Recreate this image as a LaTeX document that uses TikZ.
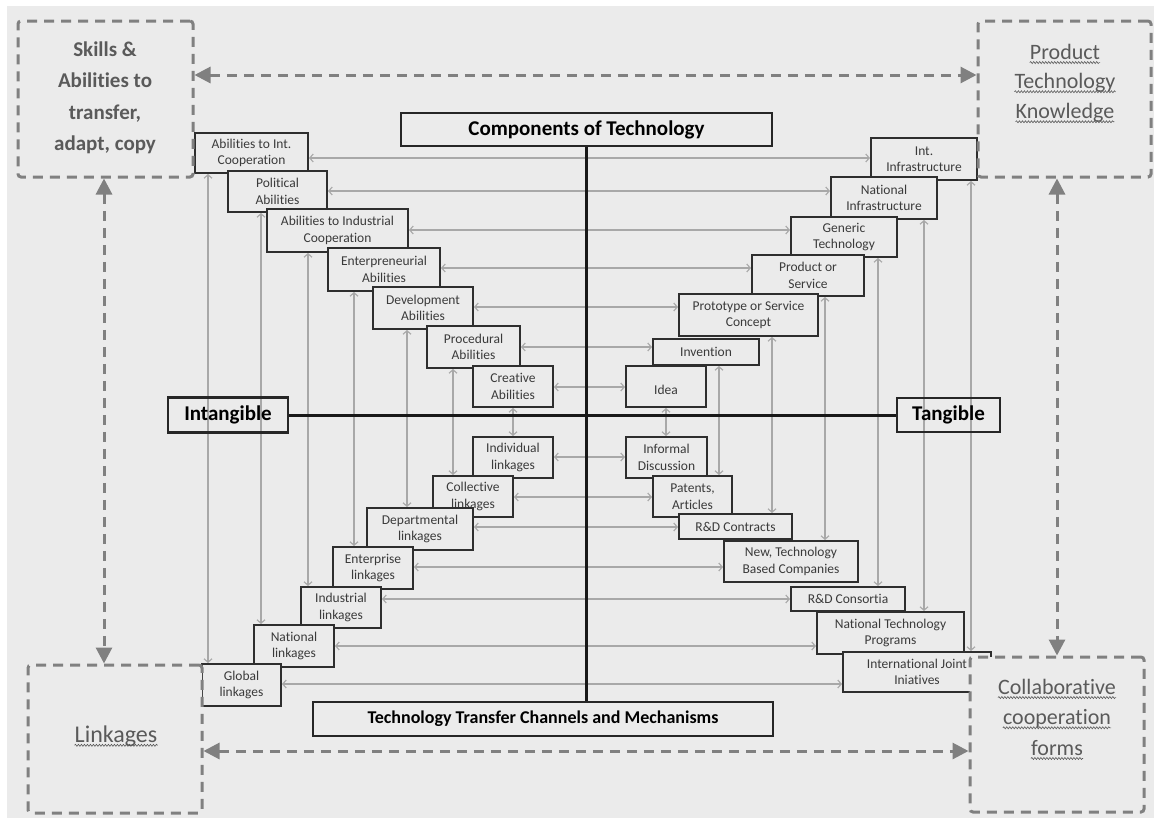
\documentclass[tikz,border=0pt]{standalone}
\usepackage{fontspec}
\setmainfont{Carlito}[Ligatures=NoCommon]
\usetikzlibrary{arrows.meta,decorations.pathmorphing}
\definecolor{bg}{HTML}{EBEBEB}
\definecolor{dashc}{HTML}{808080}
\definecolor{thinc}{HTML}{A8A8A8}
\definecolor{boxc}{HTML}{2E2E2E}
\definecolor{txt}{HTML}{3A3A3A}
\definecolor{ctxt}{HTML}{5A5A5A}
\pgfdeclarelayer{back}
\pgfdeclarelayer{lines}
\pgfsetlayers{back,lines,main}
\begin{document}
\begin{tikzpicture}[x=1pt,y=-1pt,
  sbox/.style={draw=boxc, line width=2pt, fill=bg, inner sep=0pt, align=center, text=txt, font=\fontsize{13.5}{16.5}\selectfont},
  bbox/.style={draw=black!85, line width=2.5pt, inner sep=0pt, font=\bfseries\fontsize{21}{24}\selectfont},
  harrow/.style={draw=thinc, line width=1.1pt, {Straight Barb[length=3.5pt,width=8pt]}-{Straight Barb[length=3.5pt,width=8pt]}},
  axis/.style={draw=black!90, line width=3pt},
  dbox/.style={draw=dashc, line width=3pt, dash pattern=on 10pt off 7pt, rounded corners=3pt, fill=bg, inner sep=0pt},
  darrow/.style={draw=dashc, line width=3pt, dash pattern=on 10pt off 7pt, {Triangle[length=16pt,width=16pt]}-{Triangle[length=16pt,width=16pt]}},
  ctext/.style={inner sep=0pt, text=ctxt, font=\fontsize{22}{26}\selectfont},
  squig/.style={draw=ctxt, line width=0.6pt, decorate, decoration={snake, amplitude=1pt, segment length=3pt}}
]
\useasboundingbox (0,0) rectangle (1154,819);
\begin{pgfonlayer}{back}
\fill[white] (0,0) rectangle (1154,819);
\fill[bg] (7,6) rectangle (1154,818);
\end{pgfonlayer}

% headings
\node[bbox, minimum width=371pt, minimum height=33pt] (comp) at (586.5,129.5) {Components of Technology};
\node[bbox, minimum width=460pt, minimum height=34pt, font=\bfseries\fontsize{18}{22}\selectfont] (tt) at (543,719) {Technology Transfer Channels and Mechanisms};
\node[bbox, minimum width=120pt, minimum height=35pt] (intang) at (228,415) {Intangible};
\node[bbox, minimum width=103pt, minimum height=34pt] (tang) at (948.5,415) {Tangible};

% upper left
\node[sbox, minimum width=113pt, minimum height=40pt] (a1) at (251.5,153) {Abilities to Int.\\Cooperation};
\node[sbox, minimum width=99pt, minimum height=41pt] (a2) at (277.5,191.5) {Political\\Abilities};
\node[sbox, minimum width=141pt, minimum height=43pt] (a3) at (337.5,230.5) {Abilities to Industrial\\Cooperation};
\node[sbox, minimum width=112pt, minimum height=43pt] (a4) at (384,269.5) {Enterpreneurial\\Abilities};
\node[sbox, minimum width=100pt, minimum height=42pt] (a5) at (423,308) {Development\\Abilities};
\node[sbox, minimum width=93pt, minimum height=42pt] (a6) at (473.5,347) {Procedural\\Abilities};
\node[sbox, minimum width=80pt, minimum height=41pt] (a7) at (513,386.5) {Creative\\Abilities};

% upper right
\node[sbox, minimum width=106pt, minimum height=42pt] (b1) at (924,159) {Int.\\Infrastructure};
\node[sbox, minimum width=106pt, minimum height=42pt] (b2) at (884,198) {National\\Infrastructure};
\node[sbox, minimum width=106pt, minimum height=40pt] (b3) at (844,237) {Generic\\Technology};
\node[sbox, minimum width=112pt, minimum height=41pt] (b4) at (808,275.5) {Product or\\Service};
\node[sbox, minimum width=139pt, minimum height=42pt] (b5) at (748.5,315) {Prototype or Service\\Concept};
\node[sbox, minimum width=106pt, minimum height=26pt] (b6) at (706,352) {Invention};
\node[sbox, minimum width=80pt, minimum height=41pt] (b7) at (666,386.5) {\mbox{}\\Idea};

% lower left
\node[sbox, minimum width=80pt, minimum height=41pt] (c1) at (513,457.5) {Individual\\linkages};
\node[sbox, minimum width=80pt, minimum height=41pt] (c2) at (473,496.5) {Collective\\linkages};
\node[sbox, minimum width=106pt, minimum height=42pt] (c3) at (420,529) {Departmental\\linkages};
\node[sbox, minimum width=80pt, minimum height=42pt] (c4) at (373,568) {Enterprise\\linkages};
\node[sbox, minimum width=80pt, minimum height=41pt] (c5) at (341,607.5) {Industrial\\linkages};
\node[sbox, minimum width=80pt, minimum height=42pt] (c6) at (294,646) {National\\linkages};
\node[sbox, minimum width=79pt, minimum height=42pt] (c7) at (241.5,685) {Global\\linkages};

% lower right
\node[sbox, minimum width=81pt, minimum height=41pt] (d1) at (666.5,457.5) {Informal\\Discussion};
\node[sbox, minimum width=79pt, minimum height=41pt] (d2) at (692.5,496.5) {Patents,\\Articles};
\node[sbox, minimum width=113pt, minimum height=25pt] (d3) at (735.5,526.5) {R\&D Contracts};
\node[sbox, minimum width=134pt, minimum height=41pt] (d4) at (791,561.5) {New, Technology\\Based Companies};
\node[sbox, minimum width=114pt, minimum height=24pt] (d5) at (848,599) {R\&D Consortia};
\node[sbox, minimum width=147pt, minimum height=42pt] (d6) at (890.5,633) {National Technology\\Programs};
\node[sbox, minimum width=148pt, minimum height=40pt] (d7) at (917,672) {International Joint\\Iniatives};

% connectors
\begin{pgfonlayer}{lines}
\foreach \l/\r/\y in {a1/b1/158, a2/b2/191, a3/b3/230, a4/b4/268, a5/b5/307, a6/b6/347, a7/b7/387,
  c1/d1/457, c2/d2/497, c3/d3/527, c4/d4/567, c5/d5/599, c6/d6/646, c7/d7/684}
  \draw[harrow] (\l.east |- 0,\y) -- (\r.west |- 0,\y);
\foreach \u/\d/\x in {a1/c7/208, a2/c6/261, a3/c5/308, a4/c4/354, a5/c3/407, a6/c2/453, a7/c1/513,
  b7/d1/666, b6/d2/719, b5/d3/772, b4/d4/825, b3/d5/878, b2/d6/924, b1/d7/971}
  \draw[harrow] (\u.south -| \x,0) -- (\d.north -| \x,0);
\draw[axis] (comp.south) -- (comp.south |- tt.north);
\draw[axis] (intang.east) -- (tang.west);
\end{pgfonlayer}

% dashed corner boxes
\node[dbox, minimum width=175pt, minimum height=156pt] (tl) at (105.5,99) {};
\node[dbox, minimum width=173pt, minimum height=156pt] (tr) at (1064.5,99) {};
\node[dbox, minimum width=174pt, minimum height=148pt] (bl) at (115,739) {};
\node[dbox, minimum width=174pt, minimum height=155pt] (br) at (1057,734.5) {};

\draw[darrow] (tl.east |- 0,75) -- (tr.west |- 0,75);
\draw[darrow] (bl.east |- 0,751) -- (br.west |- 0,751);
\draw[darrow] (tl.south -| 104,0) -- (bl.north -| 104,0);
\draw[darrow] (tr.south -| 1057,0) -- (br.north -| 1057,0);

% corner texts
\node[ctext, align=center, font=\bfseries\fontsize{21}{31.5}\selectfont] (skills) at (105,98) {Skills \&\\Abilities to\\transfer,\\adapt, copy};
\node[ctext] (p1) at (1065,52) {Product};
\node[ctext] (p2) at (1065,83) {Technology};
\node[ctext] (p3) at (1065,113) {Knowledge};
\node[ctext, font=\fontsize{24}{28}\selectfont] (lk) at (116,736) {Linkages};
\node[ctext] (q1) at (1057,687) {Collaborative};
\node[ctext] (q2) at (1057,719) {cooperation};
\node[ctext] (q3) at (1057,748) {forms};
\foreach \n in {p1,p2,p3,lk,q1,q2,q3}
  \draw[squig] ([yshift=-3pt]\n.base west) -- ([yshift=-3pt]\n.base east);
\end{tikzpicture}
\end{document}
